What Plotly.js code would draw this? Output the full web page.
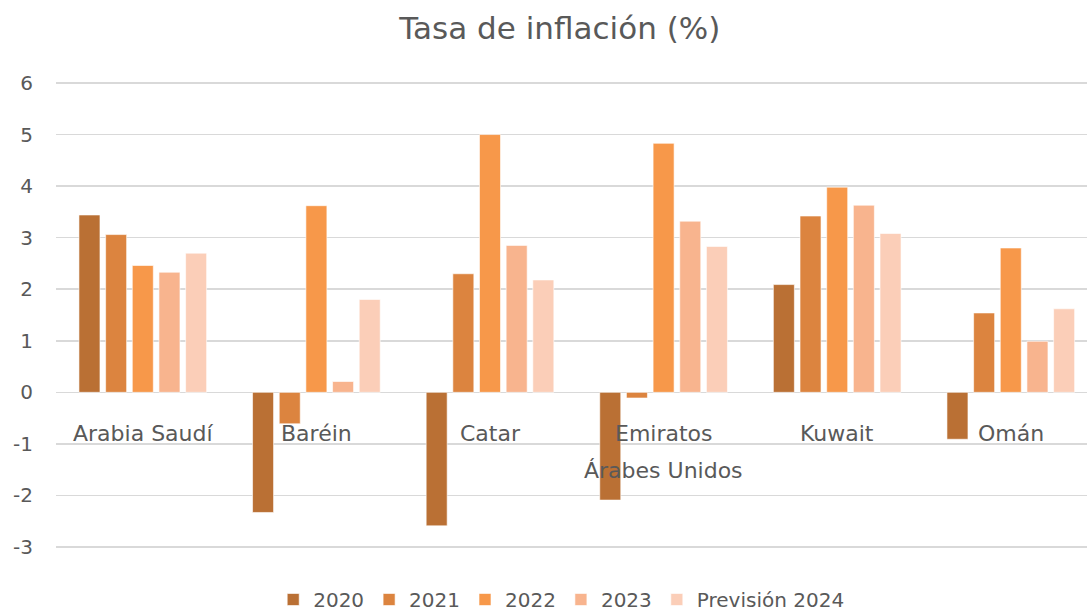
<!DOCTYPE html>
<html>
<head>
<meta charset="utf-8">
<script src="https://cdn.plot.ly/plotly-3.0.1.min.js"></script>
<style>html,body{margin:0;padding:0;background:#fff;overflow:hidden;}#chart{width:1087px;height:619px;}</style>
</head>
<body>
<div id="chart"></div>
<script>
const categories = ["Arabia Saudí", "Baréin", "Catar", "Emiratos<br>Árabes Unidos", "Kuwait", "Omán"];
const seriesNames = ["2020", "2021", "2022", "2023", "Previsión 2024"];
const v2020 = [3.44, -2.33, -2.59, -2.09, 2.09, -0.91];
const v2021 = [3.06, -0.61, 2.30, -0.11, 3.42, 1.54];
const v2022 = [2.46, 3.62, 5.00, 4.83, 3.98, 2.80];
const v2023 = [2.33, 0.21, 2.85, 3.32, 3.63, 0.99];
const v2024 = [2.70, 1.80, 2.18, 2.83, 3.08, 1.62];
const yTicks = [-3, -2, -1, 0, 1, 2, 3, 4, 5, 6];

const colors = ["#BA7034", "#DC843F", "#F7984A", "#F8B48E", "#FBCEB8"];
const values = [v2020, v2021, v2022, v2023, v2024];
const FONT = "DejaVu Sans, sans-serif";
const GREY = "#595959";

// geometry: 6 at 83px, -3 at 547px; figure slightly taller than the window so the legend sits lower
const H = 619;
const PX_PER_UNIT = (547 - 83) / 9;
const TOP_PAD = 2 / PX_PER_UNIT;
const yMin = -3 - (H - 547) / PX_PER_UNIT;
const yMax = 6 + TOP_PAD;

const data = values.map((vals, i) => ({
  type: "bar",
  name: seriesNames[i],
  x: categories,
  y: vals,
  marker: {color: colors[i], line: {color: "rgba(255,255,255,0.6)", width: 1}},
  hoverinfo: "x+y+name"
}));

const annotations = [];
categories.forEach(c => {
  c.split("<br>").forEach((line, k) => {
    annotations.push({
      x: c, y: 0, xref: "x", yref: "y",
      text: line, showarrow: false,
      xanchor: "center", yanchor: "middle",
      yshift: -41 - 37 * k,
      font: {family: FONT, size: 22, color: GREY}
    });
  });
});

const layout = {
  width: 1087, height: H,
  paper_bgcolor: "#fff", plot_bgcolor: "#fff",
  margin: {l: 56, r: 0, t: 81, b: 0},
  title: {text: "Tasa de inflación (%)", x: 0.515, xanchor: "center", y: 1 - 28/H, yanchor: "middle",
          font: {family: FONT, size: 31, color: GREY}},
  barmode: "group",
  bargap: 0.232,
  bargroupgap: 0.212,
  xaxis: {type: "category", range: [-0.5, 5.439], showticklabels: false, showgrid: false,
          zeroline: false, showline: false, ticks: ""},
  yaxis: {range: [yMin, yMax], tickvals: yTicks, ticktext: yTicks.map(String),
          showgrid: true, gridcolor: "#D9D9D9", gridwidth: 1.5,
          zeroline: true, zerolinecolor: "#D9D9D9", zerolinewidth: 1.5,
          showline: false, ticks: "", ticklabelstandoff: 22,
          tickfont: {family: FONT, size: 20, color: GREY}},
  legend: {orientation: "h", x: 0.49, xanchor: "center", y: 0, yanchor: "bottom",
           font: {family: FONT, size: 20, color: GREY}, traceorder: "normal",
           bgcolor: "rgba(0,0,0,0)", borderwidth: 0},
  annotations: annotations,
  showlegend: true
};

Plotly.newPlot("chart", data, layout, {displayModeBar: false, staticPlot: true});
</script>
</body>
</html>
